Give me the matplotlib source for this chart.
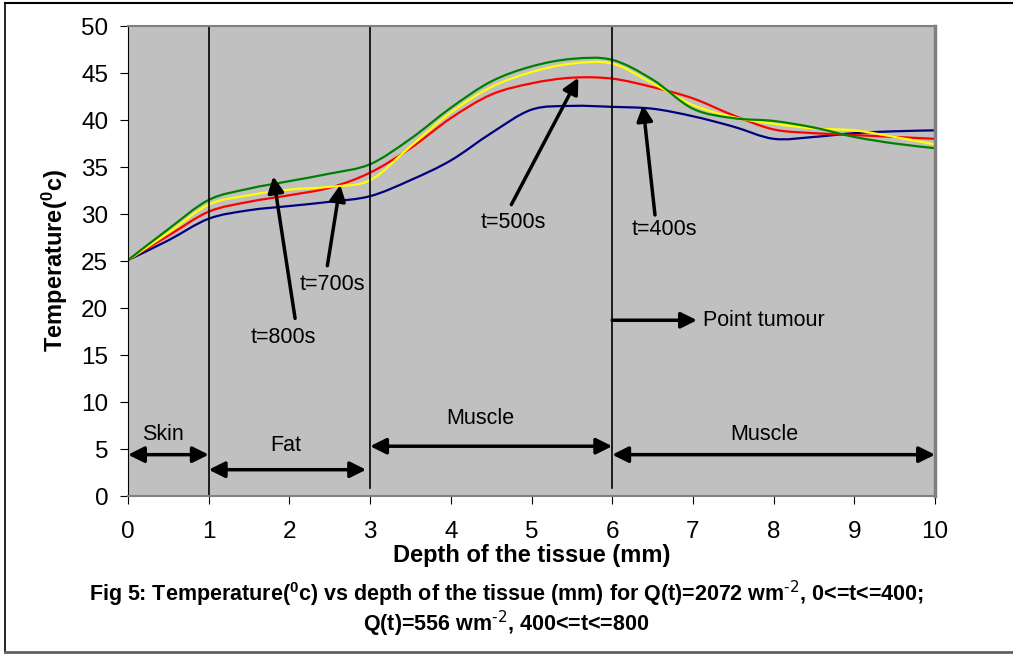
import numpy as np
import matplotlib
matplotlib.use("Agg")
import matplotlib.pyplot as plt
from matplotlib.lines import Line2D
from matplotlib.path import Path
from matplotlib.patches import PathPatch

plt.rcParams['font.family'] = ['Liberation Sans', 'DejaVu Sans']
plt.rcParams['mathtext.default'] = 'regular'

# depth of the tissue (mm)
depth = [0, 0.5, 1, 1.5, 2, 2.5, 3, 3.5, 4, 4.5, 5, 5.5, 6, 6.5, 7, 7.5, 8, 8.5, 9, 9.5, 10]

# temperature readings for each time
t400 = [25.1, 27.2, 29.5, 30.4, 30.85, 31.3, 31.9, 33.6, 35.7, 38.6, 41.1, 41.5, 41.4,
        41.2, 40.4, 39.3, 38.0, 38.2, 38.6, 38.8, 38.9]
t500 = [25.1, 27.7, 30.25, 31.3, 32.0, 32.8, 34.4, 37.0, 40.2, 42.7, 43.9, 44.5, 44.4,
        43.5, 42.3, 40.5, 39.0, 38.6, 38.4, 38.2, 38.0]
t700 = [25.1, 28.0, 31.0, 32.0, 32.6, 32.9, 33.6, 37.2, 40.8, 43.5, 45.1, 46.0, 46.0,
        43.9, 41.6, 40.3, 39.6, 39.1, 38.9, 38.2, 37.4]
t800 = [25.1, 28.4, 31.5, 32.7, 33.5, 34.3, 35.3, 38.0, 41.3, 44.1, 45.7, 46.5, 46.4,
        44.3, 41.2, 40.2, 39.9, 39.2, 38.2, 37.5, 37.0]

boundaries = [1, 3, 6]


def smooth_line(ax, xs, ys, color):
    # excel style smoothed line: bezier segments through the points
    p = np.column_stack([xs, ys]).astype(float)
    p = np.vstack([p[0], p, p[-1]])
    verts = [p[1]]
    codes = [Path.MOVETO]
    for i in range(1, len(p) - 2):
        c1 = p[i] + (p[i + 1] - p[i - 1]) / 6
        c2 = p[i + 1] - (p[i + 2] - p[i]) / 6
        verts += [c1, c2, p[i + 1]]
        codes += [Path.CURVE4] * 3
    ax.add_patch(PathPatch(Path(verts, codes), fill=False, edgecolor=color, lw=1.6,
                           transform=ax.transData, capstyle='round', joinstyle='round'))


fig = plt.figure(figsize=(10.13, 6.55), dpi=100)
ax = fig.add_axes([0.1264, 0.2427, 0.7966, 0.7176])
ax.set_facecolor('#c0c0c0')

smooth_line(ax, depth, t400, '#000080')
smooth_line(ax, depth, t500, '#ff0000')
smooth_line(ax, depth, t700, '#ffff00')
smooth_line(ax, depth, t800, '#008000')

ax.plot([1, 1], [0, 50], color='black', lw=1.2)
for b in boundaries[1:]:
    ax.plot([b, b], [0.9, 50], color='black', lw=1.2)

ax.set_xlim(0, 10)
ax.set_ylim(0, 50)
ax.set_xticks(range(0, 11))
ax.set_yticks(range(0, 51, 5))
ax.tick_params(direction='out', length=5.8, labelsize=17.5, pad=12, axis='x')
ax.tick_params(direction='out', length=5.8, labelsize=17.5, pad=8.5, axis='y')
for s in ['top', 'bottom']:
    ax.spines[s].set_color('#808080')
    ax.spines[s].set_linewidth(1.5)
ax.spines['right'].set_color('#808080')
ax.spines['right'].set_linewidth(2.5)
ax.spines['left'].set_color('black')

ax.set_xlabel('Depth of the tissue (mm)', fontsize=17, fontweight='bold', labelpad=1)
ax.set_ylabel('Temperature($^0$c)', fontsize=17, fontweight='bold', labelpad=8)

arr = dict(arrowstyle='-|>', color='black', lw=2.5, mutation_scale=24, shrinkA=0, shrinkB=0)
darr = dict(arrowstyle='<|-|>', color='black', lw=2.5, mutation_scale=24, shrinkA=0, shrinkB=0)
fs = 15.5

# tissue layers
ax.annotate('', xy=(0, 4.4), xytext=(1, 4.4), arrowprops=darr)
ax.text(0.43, 6.5, 'Skin', fontsize=fs, ha='center', va='center')
ax.annotate('', xy=(1, 2.8), xytext=(2.95, 2.8), arrowprops=darr)
ax.text(1.95, 5.4, 'Fat', fontsize=fs, ha='center', va='center')
ax.annotate('', xy=(3, 5.3), xytext=(6, 5.3), arrowprops=darr)
ax.text(4.37, 8.3, 'Muscle', fontsize=fs, ha='center', va='center')
ax.annotate('', xy=(6, 4.4), xytext=(10, 4.4), arrowprops=darr)
ax.text(7.88, 6.5, 'Muscle', fontsize=fs, ha='center', va='center')

ax.annotate('', xy=(7.05, 18.7), xytext=(6.0, 18.7), arrowprops=arr)
ax.text(7.12, 18.7, 'Point tumour', fontsize=fs, ha='left', va='center')

# time labels
ax.annotate('', xy=(1.8, 34.0), xytext=(2.07, 18.9), arrowprops=arr)
ax.text(1.92, 16.9, 't=800s', fontsize=fs, ha='center', va='center')
ax.annotate('', xy=(2.63, 33.1), xytext=(2.47, 24.5), arrowprops=arr)
ax.text(2.53, 22.5, 't=700s', fontsize=fs, ha='center', va='center')
ax.annotate('', xy=(5.58, 44.5), xytext=(4.75, 31.0), arrowprops=arr)
ax.text(4.77, 29.1, 't=500s', fontsize=fs, ha='center', va='center')
ax.annotate('', xy=(6.38, 41.6), xytext=(6.53, 29.9), arrowprops=arr)
ax.text(6.65, 28.3, 't=400s', fontsize=fs, ha='center', va='center')

fig.text(0.5, 1 - 594 / 655,
         r'Fig 5: Temperature($^0$c) vs depth of the tissue (mm) for Q(t)=2072 wm$^{\text{-2}}$, 0<=t<=400;',
         ha='center', va='center', fontsize=15.5, fontweight='bold')
fig.text(0.5, 1 - 624 / 655, r'Q(t)=556 wm$^{\text{-2}}$, 400<=t<=800',
         ha='center', va='center', fontsize=15.5, fontweight='bold')

# outer frame
fig.add_artist(Line2D([5 / 1013, 5 / 1013], [3 / 655, 652 / 655], color='black', lw=1.2))
fig.add_artist(Line2D([5 / 1013, 1], [652 / 655, 652 / 655], color='black', lw=1.5))
fig.add_artist(Line2D([5 / 1013, 1], [3 / 655, 3 / 655], color='#606060', lw=2))

fig.savefig('out.png', dpi=100)
